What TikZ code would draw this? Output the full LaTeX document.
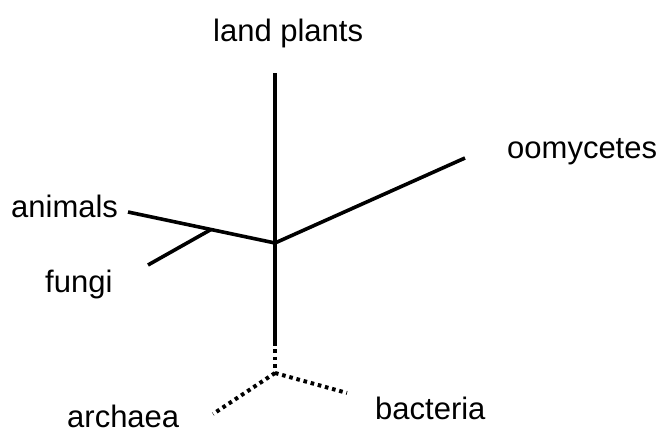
\documentclass[tikz,border=0pt]{standalone}
\usepackage{fontspec}
\setmainfont{Liberation Sans}
\begin{document}
\begin{tikzpicture}[x=1pt,y=-1pt,
  branch/.style={line width=3.6pt,black},
  dotbranch/.style={line width=4pt,black,dash pattern=on 3.6pt off 3.8pt},
  lbl/.style={inner sep=0pt,anchor=base west,font=\fontsize{31}{36}\selectfont}]
\useasboundingbox (0,0) rectangle (664,433);
\coordinate (c) at (275,243);
\coordinate (lp) at (275,73);
\coordinate (oo) at (465,158);
\coordinate (an) at (128,212);
\coordinate (fj) at (211,229.5);
\coordinate (fu) at (148,265);
\coordinate (sd) at (275,342);
\coordinate (pj) at (275,373);
\coordinate (ar) at (213,414);
\coordinate (ba) at (347,393);
\draw[branch] (c) -- (lp);
\draw[branch,line join=miter] (oo) -- (c) -- (an);
\draw[branch] (fj) -- (fu);
\draw[branch] (c) -- (sd);
\draw[dotbranch] (sd) -- (pj);
\draw[dotbranch] (pj) -- (ar);
\draw[dotbranch] (pj) -- (ba);
\node[lbl] (tlp) at (213,42) {land plants};
\node[lbl] (too) at (507,158) {oomycetes};
\node[lbl] (tan) at (11,217) {animals};
\node[lbl] (tfu) at (45,292) {fungi};
\node[lbl] (tar) at (67,427) {archaea};
\node[lbl] (tba) at (375,419) {bacteria};
\end{tikzpicture}
\end{document}
